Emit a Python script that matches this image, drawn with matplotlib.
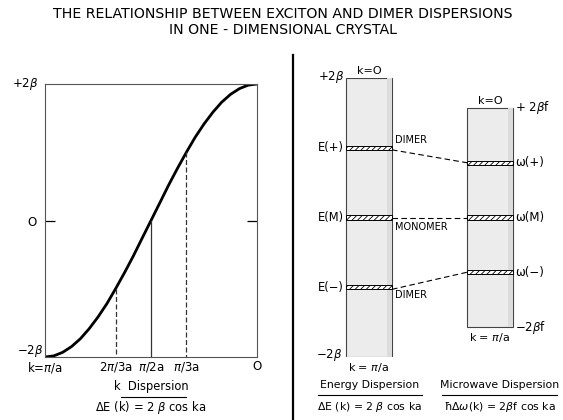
import matplotlib
matplotlib.use('Agg')
import matplotlib.pyplot as plt
from matplotlib.patches import Rectangle

plt.rcParams['font.family'] = ['DejaVu Sans']
plt.rcParams['mathtext.fontset'] = 'dejavusans'
plt.rcParams['hatch.linewidth'] = 0.6

title_1 = 'THE RELATIONSHIP BETWEEN EXCITON AND DIMER DISPERSIONS'
title_2 = 'IN ONE - DIMENSIONAL CRYSTAL'

# k dispersion curve: k in units of pi/a, energy in units of beta
k_vals = [1.000, 0.958, 0.917, 0.875, 0.833, 0.792, 0.750, 0.708, 0.667, 0.625, 0.583, 0.542, 0.500,
          0.458, 0.417, 0.375, 0.333, 0.292, 0.250, 0.208, 0.167, 0.125, 0.083, 0.042, 0.000]
E_vals = [-2.000, -1.983, -1.932, -1.848, -1.732, -1.587, -1.414, -1.218, -1.000, -0.765, -0.518, -0.261, 0.000,
          0.261, 0.518, 0.765, 1.000, 1.218, 1.414, 1.587, 1.732, 1.848, 1.932, 1.983, 2.000]

mark_k = [2 / 3, 1 / 2, 1 / 3]
mark_E = [-1.0, 0.0, 1.0]
mark_ls = ['--', '-', '--']
xtick_k = [1, 2 / 3, 1 / 2, 1 / 3, 0]
xtick_labels = [r'k=$\pi$/a', r'2$\pi$/3a', r'$\pi$/2a', r'$\pi$/3a', 'O']

# energy / microwave levels (units of beta)
f = 0.785
levels_E = [1.0, 0.0, -1.0]
levels_w = [f, 0.0, -f]
E_names = ['E(+)', 'E(M)', 'E(−)']
w_names = ['ω(+)', 'ω(M)', 'ω(−)']
kind_names = ['DIMER', 'MONOMER', 'DIMER']
kind_dy = [0.11, -0.14, -0.11]

W, H = 563, 420


def box(x0, y0, x1, y1):
    return [x0 / W, 1 - y1 / H, (x1 - x0) / W, (y1 - y0) / H]


fig = plt.figure(figsize=(5.63, 4.2), dpi=100)
fig.text(0.503, 1 - 14 / H, title_1, ha='center', va='center', fontsize=10.2)
fig.text(0.503, 1 - 29.5 / H, title_2, ha='center', va='center', fontsize=10.2)

# ---- left: k dispersion
ax1 = fig.add_axes(box(45, 84, 257, 357))
ax1.plot(k_vals, E_vals, color='black', lw=2, solid_capstyle='round', solid_joinstyle='round')
for k, e, ls in zip(mark_k, mark_E, mark_ls):
    ax1.plot([k, k], [e, -2], ls=ls, color='#333333', lw=0.9, dashes=(4, 2) if ls == '--' else (None, None))
ax1.set_xlim(1, 0)
ax1.set_ylim(-2, 2)
ax1.set_xticks(xtick_k, xtick_labels)
ax1.tick_params(axis='x', length=0, pad=2, labelsize=8.5)
ax1.set_yticks([0], ['O'])
ax1.tick_params(axis='y', direction='in', length=7, width=0.9, left=True, right=True, pad=6, labelsize=8.5)
for s in ax1.spines.values():
    s.set_linewidth(0.8)
    s.set_color('#555555')
ax1.annotate(r'+2$\beta$', xy=(0, 2), xycoords=('axes fraction', 'data'), xytext=(-5, 0),
             textcoords='offset points', ha='right', va='center', fontsize=8.5)
ax1.annotate(r'$-$2$\beta$', xy=(0, -2), xycoords=('axes fraction', 'data'), xytext=(-1, 4),
             textcoords='offset points', ha='right', va='center', fontsize=8.5)
ax1.text(0.5, -0.107, 'k  Dispersion', transform=ax1.transAxes, ha='center', va='center', fontsize=8.3)
ax1.plot([0.36, 0.665], [-0.147, -0.147], transform=ax1.transAxes, color='black', lw=0.8, clip_on=False)
ax1.text(0.5, -0.185, r'$\Delta$E (k) = 2 $\beta$ cos ka', transform=ax1.transAxes,
         ha='center', va='center', fontsize=8.3)

# ---- right: energy and microwave dispersions
ax2 = fig.add_axes(box(293, 78, 563, 357))
ax2.set_xlim(0, 270)
ax2.set_ylim(-2, 2)
ax2.axis('off')
fig.add_artist(plt.Line2D([293 / W, 293 / W], [0, 1 - 55 / H], color='black', lw=1.6))

bars = [(53, 46, 2.0), (174, 46, 2 * f)]
for x0, w, half in bars:
    ax2.add_patch(Rectangle((x0, -half), w, 2 * half, facecolor='#ececec', edgecolor='#444444', lw=0.8))
    ax2.add_patch(Rectangle((x0 + w - 5, -half), 5, 2 * half, facecolor='#dcdcdc', edgecolor='none'))

bh = 0.06
for e, wv, en, wn, kn, dy in zip(levels_E, levels_w, E_names, w_names, kind_names, kind_dy):
    ax2.add_patch(Rectangle((53, e - bh / 2), 46, bh, facecolor='white', edgecolor='black', lw=0.7, hatch='//////'))
    ax2.add_patch(Rectangle((174, wv - bh / 2), 46, bh, facecolor='white', edgecolor='black', lw=0.7, hatch='//////'))
    ax2.plot([99, 174], [e - 0.03 * abs(e), wv], color='black', lw=0.8, dashes=(5, 3))
    ax2.text(51, e, en, ha='right', va='center', fontsize=8.3)
    ax2.text(222, wv, wn, ha='left', va='center', fontsize=8.5)
    ax2.text(102, e + dy, kn, ha='left', va='center', fontsize=7)

ax2.text(51, 2.02, r'+2$\beta$', ha='right', va='center', fontsize=8.5)
ax2.text(76, 2.03, 'k=O', ha='center', va='bottom', fontsize=8)
ax2.text(49, -1.97, r'$-$2$\beta$', ha='right', va='center', fontsize=8.5)
ax2.text(76, -2.06, r'k = $\pi$/a', ha='center', va='top', fontsize=8)
ax2.text(197, 2 * f + 0.03, 'k=O', ha='center', va='bottom', fontsize=8)
ax2.text(222, 2 * f, r'+ 2$\beta$f', ha='left', va='center', fontsize=8.5)
ax2.text(222, -2 * f, r'$-$2$\beta$f', ha='left', va='center', fontsize=8.5)
ax2.text(197, -2 * f - 0.06, r'k = $\pi$/a', ha='center', va='top', fontsize=8)

ax2.text(77, -2.40, 'Energy Dispersion', ha='center', va='center', fontsize=7.8)
ax2.plot([25, 129], [-2.545, -2.545], color='black', lw=0.8, clip_on=False)
ax2.text(207, -2.40, 'Microwave Dispersion', ha='center', va='center', fontsize=7.8)
ax2.plot([149, 264], [-2.545, -2.545], color='black', lw=0.8, clip_on=False)
ax2.text(77, -2.72, r'$\Delta$E (k) = 2 $\beta$ cos ka', ha='center', va='center', fontsize=7.8)
ax2.text(207, -2.72, r'ħ$\Delta\omega$(k) = 2$\beta$f cos ka', ha='center', va='center', fontsize=7.8)

fig.savefig('out.png', dpi=100)
